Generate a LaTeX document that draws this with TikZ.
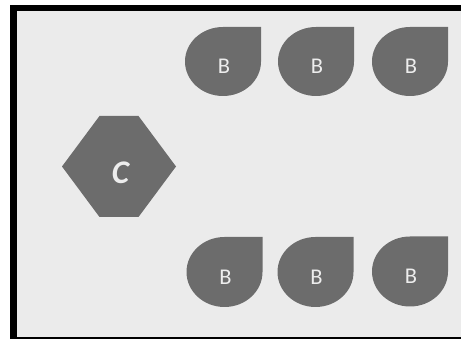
\documentclass[tikz,border=0pt]{standalone}
\usepackage{fontspec}
\setmainfont{Carlito}
\definecolor{bgfill}{HTML}{EBEBEB}
\definecolor{shapefill}{HTML}{6C6C6C}
\definecolor{txtcol}{HTML}{EDEDED}
\tikzset{
  drop/.style={fill=shapefill},
  blabel/.style={inner sep=0pt, text=txtcol, font=\fontsize{22.5}{24}\selectfont},
  clabel/.style={inner sep=0pt, text=txtcol, font=\fontsize{33}{36}\selectfont\bfseries\itshape},
}
\newcommand{\dropshape}[4]{% cx cy rx ry
  \fill[drop] (#1+#3,#2-#4) -- (#1+#3,#2) arc[start angle=0,end angle=270,x radius=#3,y radius=#4] -- cycle;
}
\begin{document}
\begin{tikzpicture}[x=1pt,y=-1pt]
\useasboundingbox (0,0) rectangle (461,339);
\clip (0,0) rectangle (461,339);
\fill[white] (0,0) rectangle (461,339);
\draw[line width=6.5pt, fill=bgfill] (13.25,8.25) rectangle (480,340.5);
% top row
\dropshape{223}{61.5}{38}{34.5}
\dropshape{316}{61.5}{38}{34.5}
\dropshape{410}{61.5}{38}{34.5}
% bottom row
\dropshape{224.5}{272}{38}{35}
\dropshape{315.5}{272}{38}{35}
\dropshape{410}{271.5}{38}{35}
% hexagon
\fill[shapefill] (62,166.5) -- (99.5,116) -- (138.5,116) -- (176,166.5) -- (138.5,217) -- (99.5,217) -- cycle;
\node[clabel] (c) at (120.5,172.5) {C};
\node[blabel] (b1) at (224,66.5) {B};
\node[blabel] (b2) at (317,66.5) {B};
\node[blabel] (b3) at (411,66.5) {B};
\node[blabel] (b4) at (225.5,277) {B};
\node[blabel] (b5) at (316.5,277) {B};
\node[blabel] (b6) at (411,276.5) {B};
\end{tikzpicture}
\end{document}
